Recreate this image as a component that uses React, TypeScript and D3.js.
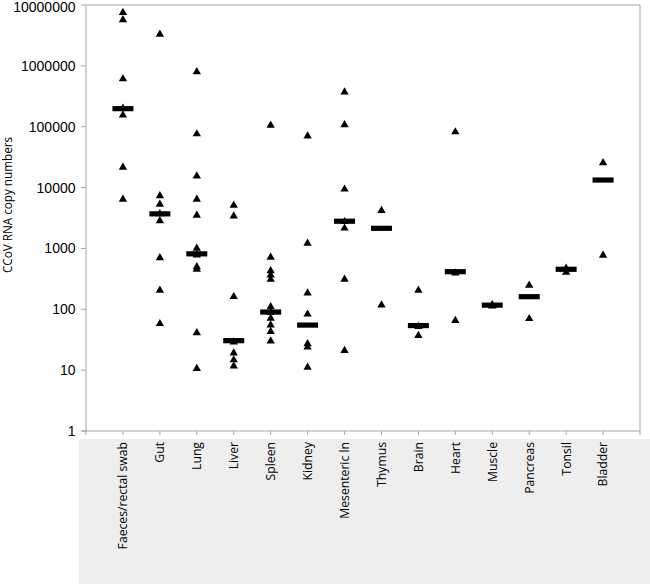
import React from "react";
import * as d3 from "d3";

const categories = [
  "Faeces/rectal swab", "Gut", "Lung", "Liver", "Spleen", "Kidney", "Mesenteric ln",
  "Thymus", "Brain", "Heart", "Muscle", "Pancreas", "Tonsil", "Bladder",
];

const faeces = [7.5e6, 5.7e6, 6.1e5, 2.0e5, 1.55e5, 2.15e4, 6.4e3];
const gut = [3.3e6, 7.3e3, 5.3e3, 3.7e3, 2.85e3, 700, 205, 58];
const lung = [8.0e5, 7.6e4, 1.55e4, 6.4e3, 3.5e3, 1.0e3, 780, 500, 455, 41, 10.6];
const liver = [5.1e3, 3.4e3, 161, 29, 19, 14.7, 11.7];
const spleen = [1.05e5, 712, 430, 366, 309, 110, 88, 71, 55, 43, 30];
const kidney = [7.0e4, 1.21e3, 185, 83, 27, 24, 11.1];
const mesenteric = [3.7e5, 1.07e5, 9.4e3, 2.75e3, 2.15e3, 310, 21];
const thymus = [4.2e3, 117];
const brain = [205, 52, 37];
const heart = [8.2e4, 395, 65];
const muscle = [118, 113];
const pancreas = [248, 70];
const tonsil = [470, 405];
const bladder = [2.56e4, 770];

const medians = [1.98e5, 3.7e3, 815, 30.5, 90, 55, 2.8e3, 2.14e3, 54, 415, 117, 161, 454, 1.33e4];

const yTickValues = [1, 10, 100, 1000, 10000, 100000, 1000000, 10000000];
const yTickLabels = ["1", "10", "100", "1000", "10000", "100000", "1000000", "10000000"];
const yTitle = "CCoV RNA copy numbers";

const seriesValues = [
  faeces, gut, lung, liver, spleen, kidney, mesenteric,
  thymus, brain, heart, muscle, pancreas, tonsil, bladder,
];

const W = 650;
const H = 584;
const left = 86;
const right = 640;
const top = 5;
const bottom = 431;
const axisColor = "#a6a6a6";

export default function App() {
  const x = d3.scaleLinear().domain([0, categories.length + 1]).range([left, right]);
  const y = d3.scaleLog().domain([1, 1e7]).range([bottom, top]);
  const tri = d3.symbol().type(d3.symbolTriangle).size(30)();
  const xTicks = d3.range(0, categories.length + 2);

  const points = seriesValues.flatMap((vals, i) =>
    vals.map((v, j) => ({ key: `${i}-${j}`, cx: x(i + 1), cy: y(v) }))
  );

  return (
    <svg
      width={W}
      height={H}
      style={{ position: "absolute", left: 0, top: 0, background: "#fff" }}
    >
      <rect x={79} y={439} width={W - 79} height={H - 439} fill="#eeeeee" />
      {/* plot border */}
      <line x1={left} x2={right} y1={top} y2={top} stroke={axisColor} strokeWidth={1} />
      <line x1={right} x2={right} y1={top} y2={bottom} stroke={axisColor} strokeWidth={1} />
      {/* y axis */}
      <line x1={left} x2={left} y1={top} y2={bottom} stroke={axisColor} strokeWidth={1} />
      {yTickValues.map((v, i) => (
        <g key={v}>
          <line x1={left - 5} x2={left} y1={y(v)} y2={y(v)} stroke={axisColor} />
          <text
            x={75.5}
            y={Math.max(y(v), 6.5)}
            dy="0.36em"
            textAnchor="end"
            fontFamily="'Liberation Sans', Arial, sans-serif"
            fontSize={14}
            fill="#000"
          >
            {yTickLabels[i]}
          </text>
        </g>
      ))}
      {/* x axis */}
      <line x1={left - 5} x2={right} y1={bottom} y2={bottom} stroke={axisColor} strokeWidth={1} />
      {xTicks.map((t) => (
        <line key={t} x1={x(t)} x2={x(t)} y1={bottom} y2={bottom + 4} stroke={axisColor} />
      ))}
      {categories.map((c, i) => (
        <text
          key={c}
          transform={`translate(${x(i + 1)},${442}) rotate(-90)`}
          dy="0.36em"
          textAnchor="end"
          fontFamily="'Open Sans', sans-serif"
          fontSize={12.2}
          fill="#000"
        >
          {c}
        </text>
      ))}
      <text
        transform={`translate(11.5,205) rotate(-90)`}
        textAnchor="middle"
        fontFamily="'Open Sans', sans-serif"
        fontSize={11.7}
        fill="#000"
      >
        {yTitle}
      </text>
      {points.map((p) => (
        <path key={p.key} d={tri} transform={`translate(${p.cx},${p.cy})`} fill="#000" />
      ))}
      {medians.map((m, i) => (
        <rect key={i} x={x(i + 1) - 10.5} y={y(m) - 2.6} width={21} height={5.2} fill="#000" />
      ))}
    </svg>
  );
}
